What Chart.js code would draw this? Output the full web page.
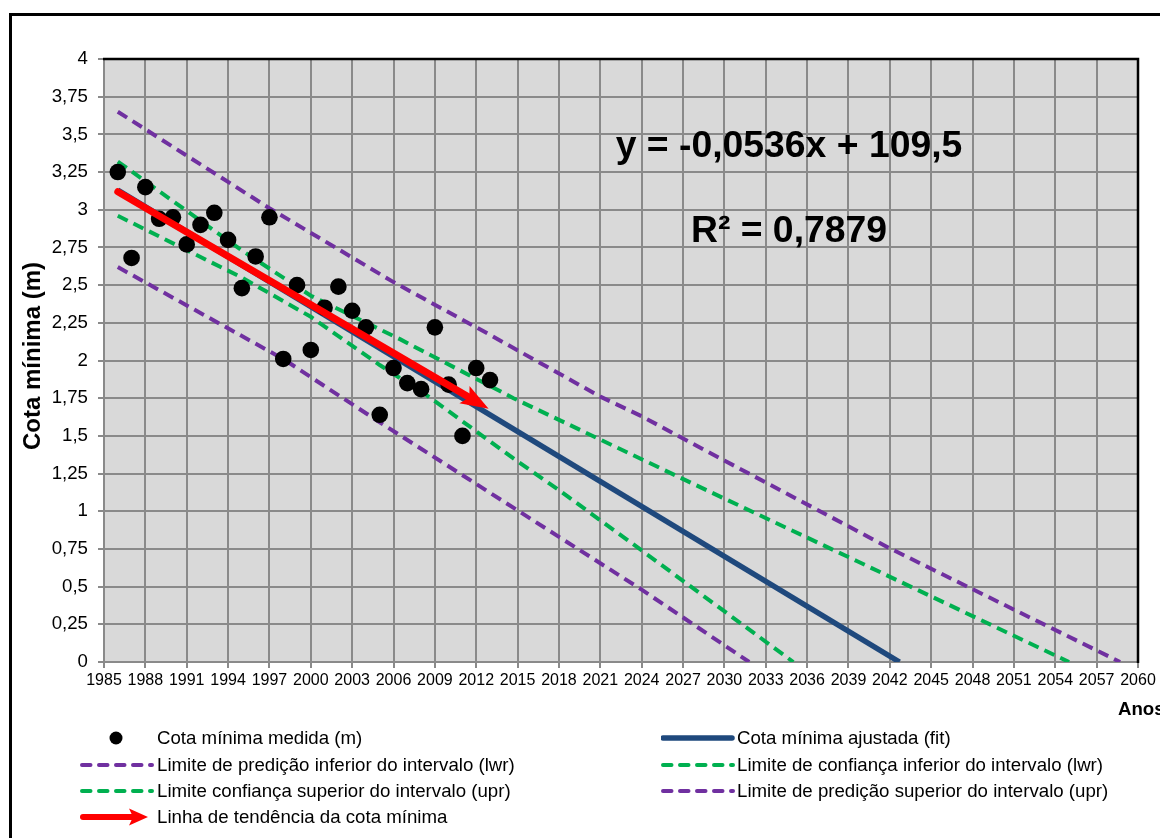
<!DOCTYPE html>
<html><head><meta charset="utf-8">
<script src="https://cdn.jsdelivr.net/npm/chart.js@4.4.1/dist/chart.umd.min.js"></script>
<style>
html,body{margin:0;padding:0;background:#fff;}
#wrap{position:relative;width:1160px;height:838px;overflow:hidden;font-family:"Liberation Sans",Arial,sans-serif;color:#000;}
#frame{position:absolute;left:9px;top:13px;width:1300px;height:1000px;border:3px solid #000;box-sizing:border-box;}
#c{position:absolute;left:0;top:0;}
.t{position:absolute;white-space:nowrap;line-height:1;}
.lg{position:absolute;height:20px;}
.lg svg{position:absolute;left:0;top:0;}
.lg span{position:absolute;top:0;font-size:18.67px;line-height:20px;white-space:nowrap;}
</style></head><body>
<div id="wrap">
<div id="frame"></div>
<canvas id="c" width="1160" height="838"></canvas>
<div class="t" id="ytitle" style="left:32px;top:356px;font-weight:bold;font-size:24px;transform:translate(-50%,-50%) rotate(-90deg);">Cota mínima (m)</div>
<div class="t" id="xtitle" style="left:1118px;top:700px;font-weight:bold;font-size:18.67px;">Anos</div>
<div class="t" id="eq" style="left:789px;top:145px;font-weight:bold;font-size:37.33px;transform:translate(-50%,-50%);">y = -0,0536x + 109,5</div>
<div class="t" id="r2" style="left:789px;top:230px;font-weight:bold;font-size:37.33px;transform:translate(-50%,-50%);">R² = 0,7879</div>
<div id="legend"></div>
</div>
<script>
// ---- data ----
const years = [1986,1987,1988,1989,1990,1991,1992,1993,1994,1995,1996,1997,1998,1999,2000,2001,2002,2003,2004,2005,2006,2007,2008,2009,2010,2011,2012,2013];
const cotaMedida = [3.25,2.68,3.15,2.94,2.95,2.77,2.90,2.98,2.80,2.48,2.69,2.95,2.01,2.50,2.07,2.35,2.49,2.33,2.22,1.64,1.95,1.85,1.81,2.22,1.84,1.50,1.95,1.87];
const fitYears = [1986, 2042.7];
const fitCota = [3.13, 0];
const predLwrYears = [1986, 1998, 2005, 2018, 2024, 2031.8];
const predLwr = [2.62, 2.01, 1.59, 0.83, 0.48, 0];
const confLwrYears = [1986, 1995, 2000, 2005, 2008.4, 2014.7, 2018, 2024, 2035];
const confLwr = [2.96, 2.55, 2.29, 1.97, 1.77, 1.35, 1.14, 0.74, 0];
const confUprYears = [1986, 1995, 2000, 2006.5, 2014.7, 2028.7, 2039.6, 2055];
const confUpr = [3.32, 2.73, 2.43, 2.14, 1.75, 1.14, 0.67, 0];
const predUprYears = [1986, 1997, 2006, 2013, 2021, 2024, 2029, 2042, 2058.7];
const predUpr = [3.65, 3.01, 2.52, 2.17, 1.76, 1.63, 1.385, 0.754, 0];
const trendYears = [1986, 2012.9];
const trendCota = [3.12, 1.68];
const xMin = 1985, xMax = 2060, xStep = 3;
const yMin = 0, yMax = 4, yStep = 0.25;

const labels = {
  medida: "Cota mínima medida (m)",
  fit: "Cota mínima ajustada (fit)",
  predLwr: "Limite de predição inferior do intervalo (lwr)",
  confLwr: "Limite de confiança inferior do intervalo (lwr)",
  confUpr: "Limite confiança superior do intervalo (upr)",
  predUpr: "Limite de predição superior do intervalo (upr)",
  trend: "Linha de tendência da cota mínima"
};

const pts = (xs, ys) => xs.map((x, i) => ({x: x, y: ys[i]}));
const PURPLE = '#7030a0', GREEN = '#00b050', BLUE = '#1f497d', RED = '#ff0000';

const bgPlugin = {
  id: 'bg',
  beforeDraw(chart) {
    const a = chart.chartArea, ctx = chart.ctx;
    ctx.save(); ctx.fillStyle = '#d9d9d9';
    ctx.fillRect(a.left, a.top, a.right - a.left, a.bottom - a.top);
    ctx.restore();
  },
  afterDraw(chart) {
    const a = chart.chartArea, ctx = chart.ctx;
    ctx.save(); ctx.strokeStyle = '#000'; ctx.lineWidth = 2.5;
    ctx.beginPath(); ctx.moveTo(a.left - 1, a.top); ctx.lineTo(a.right, a.top); ctx.lineTo(a.right, a.bottom + 1); ctx.stroke();
    ctx.restore();
  }
};

const arrowPlugin = {
  id: 'arrow',
  afterDatasetsDraw(chart) {
    const meta = chart.getDatasetMeta(0);
    const p0 = meta.data[0], p1 = meta.data[meta.data.length - 1];
    const ctx = chart.ctx;
    const ang = Math.atan2(p1.y - p0.y, p1.x - p0.x);
    const c = Math.cos(ang), s = Math.sin(ang);
    const L = 28, W = 10;
    ctx.save();
    ctx.strokeStyle = RED; ctx.fillStyle = RED; ctx.lineWidth = 7; ctx.lineCap = 'round';
    ctx.beginPath(); ctx.moveTo(p0.x, p0.y); ctx.lineTo(p1.x - (L - 6) * c, p1.y - (L - 6) * s); ctx.stroke();
    const bx = p1.x - L * c, by = p1.y - L * s;
    ctx.beginPath();
    ctx.moveTo(p1.x, p1.y);
    ctx.lineTo(bx - W * s, by + W * c);
    ctx.lineTo(p1.x - L * 0.8 * c, p1.y - L * 0.8 * s);
    ctx.lineTo(bx + W * s, by - W * c);
    ctx.closePath(); ctx.fill();
    ctx.restore();
  }
};

const dashed = (label, xs, ys, color) => ({
  label: label, data: pts(xs, ys), showLine: true, borderColor: color, backgroundColor: color,
  borderWidth: 4, borderDash: [11, 6.5], pointRadius: 0, fill: false, tension: 0
});

const chart = new Chart(document.getElementById('c'), {
  type: 'scatter',
  data: {
    datasets: [
      {label: labels.trend, data: pts(trendYears, trendCota), showLine: false, pointRadius: 0, borderColor: RED, backgroundColor: RED},
      {label: labels.medida, data: pts(years, cotaMedida), pointRadius: 8.3, pointBackgroundColor: '#000', pointBorderColor: '#000', pointBorderWidth: 0, showLine: false},
      {label: labels.fit, data: pts(fitYears, fitCota), showLine: true, borderColor: BLUE, borderWidth: 5.5, pointRadius: 0},
      dashed(labels.predLwr, predLwrYears, predLwr, PURPLE),
      dashed(labels.confLwr, confLwrYears, confLwr, GREEN),
      dashed(labels.confUpr, confUprYears, confUpr, GREEN),
      dashed(labels.predUpr, predUprYears, predUpr, PURPLE)
    ]
  },
  options: {
    responsive: false, animation: false, devicePixelRatio: 1,
    layout: {padding: {left: 0, top: 59, right: 22, bottom: 136}},
    plugins: {legend: {display: false}, tooltip: {enabled: false}},
    scales: {
      x: {
        type: 'linear', min: xMin, max: xMax,
        afterFit(scale) { scale.height = 40; },
        ticks: {stepSize: xStep, autoSkip: false, maxRotation: 0, color: '#000', padding: 3,
          font: {family: "'Liberation Sans', Arial, sans-serif", size: 16},
          callback: v => String(v)},
        grid: {color: '#8a8a8a', lineWidth: 2, tickLength: 6},
        border: {color: '#8a8a8a', width: 2}
      },
      y: {
        type: 'linear', min: yMin, max: yMax,
        afterFit(scale) { scale.width = 104; },
        ticks: {stepSize: yStep, color: '#000', padding: 10,
          font: {family: "'Liberation Sans', Arial, sans-serif", size: 18.67},
          callback: v => String(v).replace('.', ',')},
        grid: {color: '#8a8a8a', lineWidth: 2, tickLength: 6},
        border: {color: '#8a8a8a', width: 2}
      }
    }
  },
  plugins: [bgPlugin, arrowPlugin]
});

// ---- legend (HTML) ----
const legendItems = [
  {label: labels.medida, kind: 'dot', color: '#000', x: 80, y: 738},
  {label: labels.predLwr, kind: 'dash', color: PURPLE, x: 80, y: 765},
  {label: labels.confUpr, kind: 'dash', color: GREEN, x: 80, y: 791},
  {label: labels.trend, kind: 'arrow', color: RED, x: 80, y: 817},
  {label: labels.fit, kind: 'solid', color: BLUE, x: 661, y: 738},
  {label: labels.confLwr, kind: 'dash', color: GREEN, x: 661, y: 765},
  {label: labels.predUpr, kind: 'dash', color: PURPLE, x: 661, y: 791}
];
const lg = document.getElementById('legend');
legendItems.forEach(it => {
  const d = document.createElement('div');
  d.className = 'lg';
  d.style.left = it.x + 'px'; d.style.top = (it.y - 10) + 'px';
  let svg = '';
  if (it.kind === 'dot') svg = `<circle cx="36" cy="10" r="6.5" fill="${it.color}"/>`;
  else if (it.kind === 'dash') svg = `<line x1="2" y1="10" x2="72" y2="10" stroke="${it.color}" stroke-width="4" stroke-linecap="round" stroke-dasharray="8.5 8.5"/>`;
  else if (it.kind === 'solid') svg = `<line x1="2" y1="10" x2="71" y2="10" stroke="${it.color}" stroke-width="5.5" stroke-linecap="round"/>`;
  else if (it.kind === 'arrow') svg = `<line x1="3" y1="10" x2="52" y2="10" stroke="${it.color}" stroke-width="6" stroke-linecap="round"/><polygon points="68,10 49,1.5 53,10 49,18.5" fill="${it.color}"/>`;
  d.innerHTML = `<svg width="78" height="20">${svg}</svg><span style="left:${it.x === 80 ? 77 : 76}px">${it.label}</span>`;
  lg.appendChild(d);
});
</script>
</body></html>
